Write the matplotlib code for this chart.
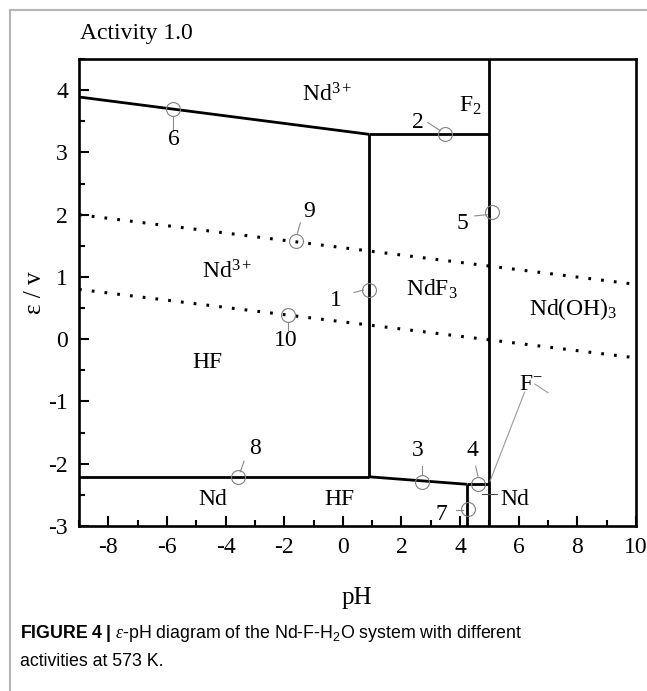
import matplotlib
matplotlib.use("Agg")
from matplotlib import pyplot as plt
from matplotlib.ticker import MultipleLocator
from matplotlib.lines import Line2D

plt.rcParams['font.family'] = ['Liberation Serif', 'DejaVu Serif']
plt.rcParams['axes.unicode_minus'] = False
plt.rcParams['mathtext.fontset'] = 'custom'
plt.rcParams['mathtext.rm'] = 'Liberation Serif'
plt.rcParams['mathtext.it'] = 'Liberation Serif:italic'
plt.rcParams['mathtext.sf'] = 'Liberation Sans'
plt.rcParams['mathtext.bf'] = 'Liberation Sans:bold'

# boundary lines (pH, potential)
solid_lines = [
    ([-9, 0.9], [3.89, 3.29]),
    ([0.9, 5.0], [3.29, 3.29]),
    ([0.9, 0.9], [3.29, -2.21]),
    ([5.0, 5.0], [4.5, -3.0]),
    ([-9, 0.9], [-2.21, -2.21]),
    ([0.9, 4.23], [-2.21, -2.33]),
    ([4.23, 5.0], [-2.33, -2.33]),
    ([4.23, 4.23], [-2.33, -3.0]),
]
# water stability lines
dotted_lines = [
    ([-9, 10], [2.0, 0.88]),
    ([-9, 10], [0.8, -0.30]),
]

# numbered points
point_ids = ['1', '2', '3', '4', '5', '6', '7', '8', '9', '10']
point_ph = [0.9, 3.47, 2.69, 4.61, 5.08, -5.78, 4.26, -3.56, -1.61, -1.88]
point_e = [0.79, 3.30, -2.30, -2.33, 2.05, 3.70, -2.73, -2.21, 1.57, 0.385]
label_ph = [-0.25, 2.55, 2.55, 4.43, 4.09, -5.78, 3.37, -2.98, -1.15, -1.95]
label_e = [0.62, 3.48, -1.78, -1.78, 1.86, 3.20, -2.81, -1.75, 2.05, -0.02]
# leader lines (from, to)
lead_ph0 = [0.38, 2.9, 2.69, 4.53, 4.5, -5.78, 3.85, -3.37, -1.45, -1.88]
lead_e0 = [0.75, 3.48, -2.04, -2.04, 1.98, 3.34, -2.74, -1.96, 1.87, 0.14]
lead_ph1 = [0.7, 3.32, 2.69, 4.61, 4.92, -5.78, 4.1, -3.5, -1.55, -1.88]
lead_e1 = [0.79, 3.35, -2.18, -2.2, 2.0, 3.58, -2.74, -2.13, 1.70, 0.27]

# region labels
region_text = [r'Nd$\mathregular{^{3+}}$', r'F$\mathregular{_2}$', r'Nd$\mathregular{^{3+}}$', 'HF',
               r'NdF$\mathregular{_3}$', r'Nd(OH)$\mathregular{_3}$',
               r'F$\mathregular{^{-}}$', 'Nd', 'HF', 'Nd']
region_ph = [-0.55, 4.35, -3.95, -4.62, 3.05, 7.85, 6.4, -4.45, -0.1, 5.85]
region_e = [3.92, 3.74, 1.08, -0.38, 0.8, 0.48, -0.72, -2.58, -2.58, -2.58]

fig = plt.figure(figsize=(6.47, 6.91), dpi=100)
ax = fig.add_axes([79 / 647, 1 - 526 / 691, 557 / 647, 467 / 691])

for xs, ys in solid_lines:
    ax.plot(xs, ys, color='black', lw=2.0, solid_capstyle='butt')
for xs, ys in dotted_lines:
    ax.plot(xs, ys, color='black', lw=2.2, linestyle=(0, (0.9, 3.3)))

for i in range(len(point_ids)):
    ax.plot([lead_ph0[i], lead_ph1[i]], [lead_e0[i], lead_e1[i]], color='0.55', lw=0.8)
    ax.plot(point_ph[i], point_e[i], 'o', mfc='none', mec='0.5', mew=0.8, ms=10)
    ax.text(label_ph[i], label_e[i], point_ids[i], fontsize=17, ha='center', va='center')

# F- leaders
ax.plot([6.2, 5.02], [-0.85, -2.28], color='0.6', lw=0.8)
ax.plot([6.55, 7.0], [-0.72, -0.86], color='0.6', lw=0.8)
# Nd leader
ax.plot([4.75, 5.25], [-2.49, -2.49], color='0.3', lw=0.8)

for t, x, y in zip(region_text, region_ph, region_e):
    ax.text(x, y, t, fontsize=17, ha='center', va='center')

ax.set_xlim(-9, 10)
ax.set_ylim(-3, 4.5)
ax.xaxis.set_major_locator(MultipleLocator(2))
ax.xaxis.set_minor_locator(MultipleLocator(1))
ax.yaxis.set_major_locator(MultipleLocator(1))
ax.yaxis.set_minor_locator(MultipleLocator(0.5))
ax.set_xticks(range(-8, 11, 2))
ax.set_yticks(range(-3, 5))
ax.tick_params(which='both', direction='in', width=1.5, labelsize=17, pad=8)
ax.tick_params(which='major', length=7)
ax.tick_params(which='minor', length=4)
for s in ax.spines.values():
    s.set_linewidth(1.9)

ax.set_xlabel('pH', fontsize=18)
ax.set_ylabel('ε / v', fontsize=18)
ax.xaxis.set_label_coords(0.499, -0.131)
ax.yaxis.set_label_coords(-0.060, 0.5)
fig.text(80 / 647, 1 - 33 / 691, 'Activity 1.0', fontsize=17, ha='left', va='center')

# outer frame
fig.add_artist(Line2D([10 / 647, 10 / 647], [0, 1 - 10 / 691], color='#b5b5b5', lw=1.5))
fig.add_artist(Line2D([10 / 647, 1], [1 - 10 / 691, 1 - 10 / 691], color='#b5b5b5', lw=1.5))

cap1 = r'$\mathbf{FIGURE\ 4\ |}$ $\mathit{ε}$-pH diagram of the Nd-F-H$\mathsf{_2}$O system with different'
fig.text(20 / 647, 1 - 634 / 691, cap1, fontsize=12.8, family='Liberation Sans', ha='left', va='center')
fig.text(20 / 647, 1 - 661 / 691, 'activities at 573 K.', fontsize=12.8, family='Liberation Sans',
         ha='left', va='center')

plt.savefig('out.png', dpi=100)
